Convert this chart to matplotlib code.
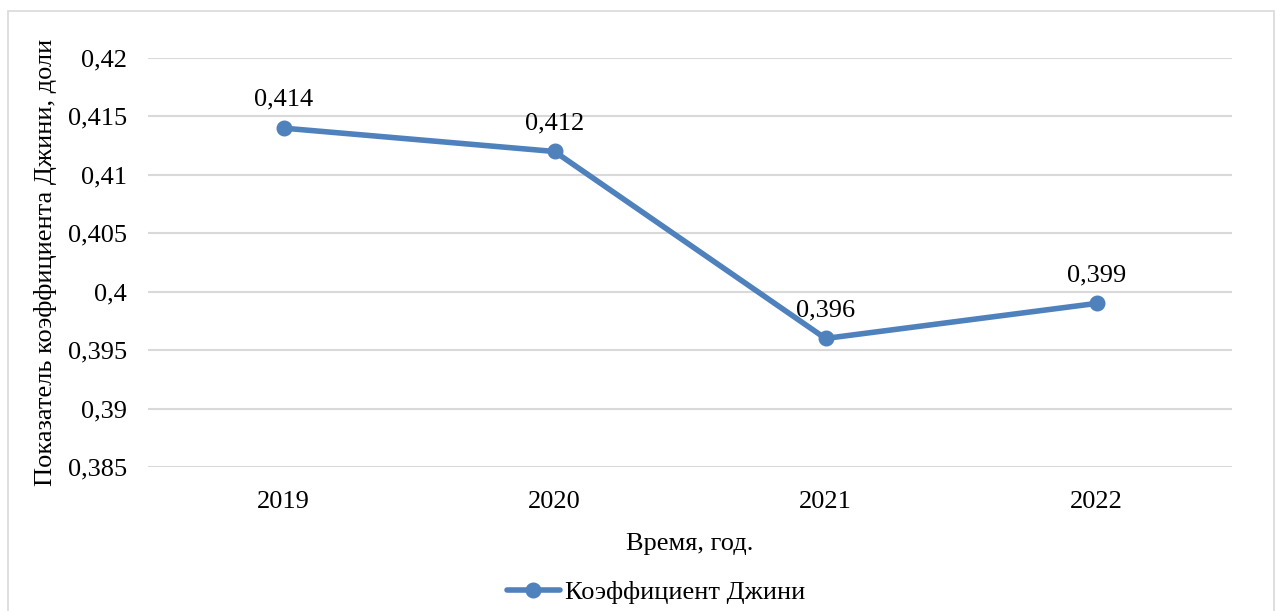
import matplotlib
matplotlib.use("Agg")
import matplotlib.pyplot as plt
from matplotlib.patches import Rectangle

plt.rcParams['font.family'] = ['Liberation Serif', 'DejaVu Serif']

# данные
years = ["2019", "2020", "2021", "2022"]
gini = [0.414, 0.412, 0.396, 0.399]
labels = ["0,414", "0,412", "0,396", "0,399"]
yticks = [0.385, 0.39, 0.395, 0.4, 0.405, 0.41, 0.415, 0.42]
ytick_labels = ["0,385", "0,39", "0,395", "0,4", "0,405", "0,41", "0,415", "0,42"]

color = "#4F81BD"

fig = plt.figure(figsize=(12.8, 6.11), dpi=100)
ax = fig.add_axes([148/1280, 1-467/611, (1232-148)/1280, (467-58)/611])

x = list(range(len(years)))
ax.plot(x, gini, color=color, lw=4, marker="o", ms=10.5, solid_capstyle="round",
        label="Коэффициент Джини", zorder=3)

for xi, yi, t in zip(x, gini, labels):
    ax.annotate(t, (xi, yi), xytext=(0, 12.5), textcoords="offset points",
                ha="center", va="bottom", fontsize=19)

ax.set_xlim(-0.5, len(years) - 0.5)
ax.set_ylim(0.385, 0.42)
ax.set_xticks(x)
ax.set_xticklabels(years)
ax.set_yticks(yticks)
ax.set_yticklabels(ytick_labels)
ax.tick_params(length=0, labelsize=19)
ax.tick_params(axis="y", pad=15)
ax.tick_params(axis="x", pad=17)
ax.grid(axis="y", color="#D9D9D9", lw=1.5)
ax.set_axisbelow(True)
for s in ax.spines.values():
    s.set_visible(False)

ax.set_xlabel("Время, год.", fontsize=19, labelpad=15)
ax.set_ylabel("Показатель коэффициента Джини, доли", fontsize=19, labelpad=8)

fig.legend(loc="center", bbox_to_anchor=(656/1280, 1-592/611), frameon=False,
           fontsize=19, handlelength=2.0, handletextpad=0.2)

fig.patches.append(Rectangle((8/1280, -0.05), 1266/1280, 1.05-11/611,
                             transform=fig.transFigure, fill=False,
                             edgecolor="#D9D9D9", lw=1.2))

fig.savefig("out.png", dpi=100, facecolor="white")
